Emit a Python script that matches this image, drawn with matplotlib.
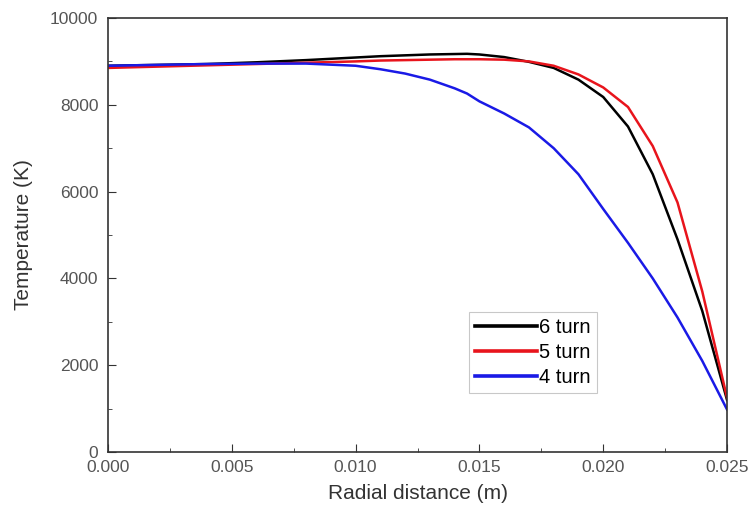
import numpy as np
import matplotlib.pyplot as plt
from matplotlib.ticker import MultipleLocator

plt.rcParams['font.family'] = ['Liberation Sans', 'DejaVu Sans']

# radial distance (m)
r = [0.000, 0.002, 0.004, 0.006, 0.008, 0.010, 0.011, 0.012, 0.013, 0.014, 0.0145,
     0.015, 0.016, 0.017, 0.018, 0.019, 0.020, 0.021, 0.022, 0.023, 0.024, 0.025]

# temperature (K)
t_6turn = [8900, 8920, 8940, 8980, 9030, 9090, 9120, 9140, 9160, 9170, 9175,
           9160, 9100, 8990, 8850, 8580, 8180, 7500, 6400, 4900, 3250, 1200]
t_5turn = [8850, 8880, 8910, 8940, 8970, 9000, 9020, 9030, 9040, 9050, 9050,
           9050, 9040, 9000, 8900, 8700, 8400, 7950, 7050, 5750, 3700, 1250]
t_4turn = [8900, 8920, 8940, 8950, 8950, 8900, 8820, 8720, 8580, 8380, 8260,
           8080, 7800, 7480, 7000, 6400, 5600, 4820, 4000, 3100, 2100, 980]

fig = plt.figure(figsize=(7.52, 5.19), dpi=100)
ax = fig.add_axes([0.1436, 0.129, 0.8232, 0.8363])

ax.plot(r, t_6turn, color='black', lw=1.8, label='6 turn')
ax.plot(r, t_5turn, color='#e8141c', lw=1.8, label='5 turn')
ax.plot(r, t_4turn, color='#1a1ae6', lw=1.8, label='4 turn')

ax.set_xlim(0, 0.025)
ax.set_ylim(0, 10000)
ax.xaxis.set_major_locator(MultipleLocator(0.005))
ax.xaxis.set_minor_locator(MultipleLocator(0.0025))
ax.yaxis.set_major_locator(MultipleLocator(2000))
ax.yaxis.set_minor_locator(MultipleLocator(1000))
ax.xaxis.set_major_formatter(plt.FormatStrFormatter('%.3f'))

for s in ax.spines.values():
    s.set_color('#333333')
    s.set_linewidth(1.2)
ax.tick_params(which='both', direction='in', top=False, right=False,
               colors='#333333', labelcolor='#555555', labelsize=12.5)
ax.tick_params(which='major', length=6)
ax.tick_params(which='minor', length=3)
ax.tick_params(axis='x', which='major', pad=6)
ax.tick_params(axis='y', which='major', pad=7)

ax.set_xlabel('Radial distance (m)', fontsize=15, color='#333333', labelpad=6)
ax.set_ylabel('Temperature (K)', fontsize=15, color='#333333', labelpad=12)

leg = ax.legend(loc='lower left', bbox_to_anchor=(0.583, 0.135), fontsize=14.5,
                frameon=True, fancybox=False, handlelength=3.1, handletextpad=0.1,
                borderpad=0.3, labelspacing=0.3, borderaxespad=0)
leg.get_frame().set_edgecolor('#bbbbbb')
leg.get_frame().set_linewidth(0.8)
for line in leg.get_lines():
    line.set_linewidth(2.6)

fig.savefig('out.png', dpi=100)
